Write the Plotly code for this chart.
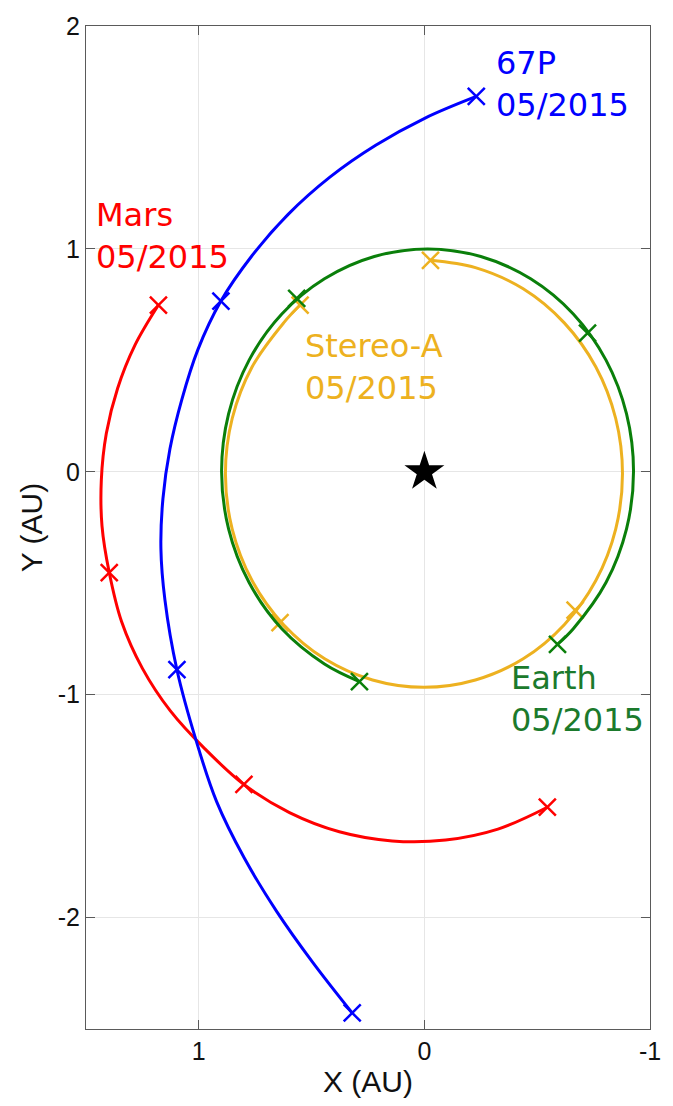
import plotly.graph_objects as go

# Heliocentric ecliptic positions (AU) sampled along each track
comet_x = [-0.230, -0.001, 0.216, 0.419, 0.604, 0.766, 0.902, 1.004, 1.075, 1.128,
           1.159, 1.168, 1.150, 1.097, 1.010, 0.921, 0.799, 0.655, 0.495, 0.320]
comet_y = [1.684, 1.586, 1.465, 1.322, 1.155, 0.967, 0.766, 0.548, 0.325, 0.102,
           -0.121, -0.344, -0.576, -0.888, -1.212, -1.480, -1.732, -1.972, -2.201, -2.428]
comet_mark_x = [-0.230, 0.902, 1.097, 0.320]
comet_mark_y = [1.684, 0.766, -0.888, -2.428]

mars_x = [1.179, 1.283, 1.360, 1.410, 1.432, 1.429, 1.397, 1.342, 1.250, 1.126,
          0.974, 0.800, 0.598, 0.377, 0.143, -0.094, -0.326, -0.545]
mars_y = [0.748, 0.568, 0.374, 0.172, -0.036, -0.244, -0.452, -0.673, -0.882, -1.073,
          -1.242, -1.403, -1.529, -1.615, -1.656, -1.652, -1.603, -1.505]
mars_mark_x = [1.179, 1.397, 0.800, -0.545]
mars_mark_y = [0.748, -0.452, -1.403, -1.505]

earth_x = [0.288, 0.443, 0.632, 0.777, 0.868, 0.899, 0.868, 0.777, 0.632, 0.443, 0.222,
           -0.014, -0.250, -0.471, -0.660, -0.805, -0.896, -0.927, -0.896, -0.805,
           -0.660, -0.590]
earth_y = [-0.941, -0.862, -0.704, -0.497, -0.256, 0.002, 0.260, 0.501, 0.708, 0.866, 0.966,
           1.000, 0.966, 0.866, 0.708, 0.501, 0.260, 0.002, -0.256, -0.497,
           -0.704, -0.774]
earth_mark_x = [0.288, 0.566, -0.723, -0.590]
earth_mark_y = [-0.941, 0.778, 0.622, -0.774]

stereo_x = [0.551, 0.624, 0.764, 0.852, 0.882, 0.852, 0.764, 0.624, 0.442, 0.230, 0.002,
            -0.226, -0.438, -0.620, -0.760, -0.848, -0.878, -0.848, -0.760, -0.620,
            -0.438, -0.226, -0.027]
stereo_y = [0.748, 0.668, 0.470, 0.239, -0.009, -0.257, -0.488, -0.686, -0.839, -0.934, -0.967,
            -0.934, -0.839, -0.686, -0.488, -0.257, -0.009, 0.239, 0.470, 0.668,
            0.821, 0.916, 0.949]
stereo_mark_x = [0.551, 0.640, -0.668, -0.027]
stereo_mark_y = [0.748, -0.677, -0.621, 0.949]

sun_x = [0.0]
sun_y = [0.0]

x_ticks = [1, 0, -1]
y_ticks = [2, 1, 0, -1, -2]

BLUE = "#0000ff"
RED = "#ff0000"
GREEN = "#0a7f0a"
GREEN_TEXT = "#1b7a2c"
GOLD = "#edb120"

fig = go.Figure()


def add_track(xs, ys, mx, my, color):
    fig.add_trace(go.Scatter(x=xs, y=ys, mode="lines",
                             line=dict(color=color, width=3, shape="spline", smoothing=1.0),
                             hoverinfo="skip", showlegend=False))
    fig.add_trace(go.Scatter(x=mx, y=my, mode="markers",
                             marker=dict(symbol="x-thin", size=17, color=color,
                                         line=dict(color=color, width=2.5)),
                             showlegend=False))


add_track(stereo_x, stereo_y, stereo_mark_x, stereo_mark_y, GOLD)
add_track(earth_x, earth_y, earth_mark_x, earth_mark_y, GREEN)
add_track(mars_x, mars_y, mars_mark_x, mars_mark_y, RED)
add_track(comet_x, comet_y, comet_mark_x, comet_mark_y, BLUE)

fig.add_trace(go.Scatter(x=sun_x, y=sun_y, mode="markers",
                         marker=dict(symbol="star", size=30, color="black",
                                     line=dict(width=0)),
                         showlegend=False))

label_font = "DejaVu Sans"
labels = [
    ("Mars<br>05/2015", 1.465, 1.060, RED),
    ("67P<br>05/2015", -0.310, 1.740, BLUE),
    ("Stereo-A<br>05/2015", 0.540, 0.472, GOLD),
    ("Earth<br>05/2015", -0.374, -1.021, GREEN_TEXT),
]
for text, lx, ly, col in labels:
    fig.add_annotation(x=lx, y=ly, xref="x", yref="y", text=text, showarrow=False,
                       xanchor="left", yanchor="middle", align="left",
                       font=dict(family=label_font, size=32, color=col))

axis_common = dict(
    showline=True, linecolor="#5a5a5a", linewidth=1.2, mirror="ticks",
    ticks="inside", ticklen=9, tickwidth=1.2, tickcolor="#5a5a5a",
    showgrid=True, gridcolor="#e6e6e6", gridwidth=1,
    zeroline=False,
    tickfont=dict(family="Liberation Sans, Arial, sans-serif", size=25, color="#111111"),
)

fig.update_xaxes(range=[1.5, -1], tickvals=x_ticks, ticktext=[str(v) for v in x_ticks],
                 title=dict(text="X (AU)", standoff=6,
                            font=dict(family="Liberation Sans, Arial, sans-serif", size=30,
                                      color="#111111")),
                 **axis_common)
fig.update_yaxes(range=[-2.5, 2], tickvals=y_ticks, ticktext=[str(v) for v in y_ticks],
                 title=dict(text="Y (AU)", standoff=6,
                            font=dict(family="Liberation Sans, Arial, sans-serif", size=30,
                                      color="#111111")),
                 **axis_common)

fig.update_layout(
    width=673, height=1106,
    margin=dict(l=86, r=23, t=19, b=77),
    paper_bgcolor="white", plot_bgcolor="white",
    showlegend=False,
)

fig.write_html("out.html")
